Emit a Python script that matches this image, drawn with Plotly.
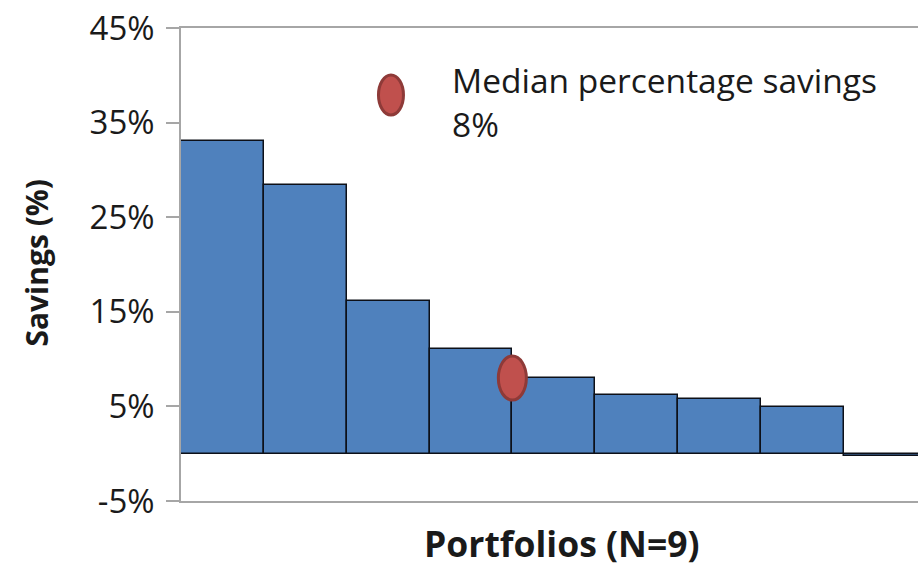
import numpy as np
import plotly.graph_objects as go

# Percentage savings per portfolio, sorted high to low
portfolios = ["P1", "P2", "P3", "P4", "P5", "P6", "P7", "P8", "P9"]
savings = [33.1, 28.4, 16.1, 11.1, 8.0, 6.2, 5.75, 4.9, -0.25]
y_ticks = [-5, 5, 15, 25, 35, 45]
y_tick_labels = ["-5%", "5%", "15%", "25%", "35%", "45%"]

median_savings = float(np.median(savings))
median_pos = 3.5  # between the 4th and 5th portfolio

FONT = "Open Sans"
TEXT = "#1a1a1a"
AXIS = "#a6a6a6"

x_idx = list(range(len(portfolios)))

fig = go.Figure()
fig.add_trace(go.Bar(
    x=x_idx,
    y=savings,
    marker=dict(color="#4f81bd", line=dict(color="#0d1018", width=1.5)),
    width=1.0,
    hovertext=portfolios,
    showlegend=False,
))

# Median marker (ellipse anchored at the median point, pixel sized)
fig.add_shape(
    type="circle", xref="x", yref="y",
    xsizemode="pixel", ysizemode="pixel",
    xanchor=median_pos, yanchor=median_savings,
    x0=-14, x1=14, y0=-22, y1=22,
    fillcolor="#c0504d", line=dict(color="#8e3a38", width=3),
    layer="above",
)

# Legend entry: ellipse symbol + text
fig.add_shape(
    type="circle", xref="paper", yref="paper",
    xsizemode="pixel", ysizemode="pixel",
    xanchor=0.2849, yanchor=0.8584,
    x0=-12.5, x1=12.5, y0=-20, y1=20,
    fillcolor="#c0504d", line=dict(color="#8e3a38", width=3),
)
fig.add_annotation(
    xref="paper", yref="paper", x=0.3650, y=0.8436,
    xanchor="left", yanchor="middle", align="left", showarrow=False,
    text=f"Median percentage savings<br>{median_savings:.0f}%",
    font=dict(family=FONT, size=33.5, color=TEXT),
)

# Axis titles
fig.add_annotation(
    xref="paper", yref="paper", x=-0.1954, y=0.504,
    xanchor="center", yanchor="middle", textangle=-90, showarrow=False,
    text="<b>Savings (%)</b>",
    font=dict(family=FONT, size=30, color=TEXT),
)
fig.add_annotation(
    xref="paper", yref="paper", x=0.5163, y=-0.144,
    xanchor="center", yanchor="bottom", showarrow=False,
    text="<b>Portfolios (N=9)</b>",
    font=dict(family=FONT, size=35.5, color=TEXT),
)

fig.update_layout(
    width=918, height=568,
    margin=dict(l=181, r=0, t=28, b=67),
    paper_bgcolor="white", plot_bgcolor="white",
    bargap=0,
    showlegend=False,
    xaxis=dict(
        range=[-0.5, 8.397],
        showticklabels=False, ticks="", showgrid=False, zeroline=False,
        showline=True, linecolor=AXIS, linewidth=1.5, mirror=True,
    ),
    yaxis=dict(
        range=[-5, 45],
        tickvals=y_ticks, ticktext=y_tick_labels,
        ticks="outside", ticklen=13, tickcolor=AXIS, tickwidth=1.5,
        ticklabelstandoff=5,
        tickfont=dict(family=FONT, size=33, color=TEXT),
        showgrid=False, zeroline=False,
        showline=True, linecolor=AXIS, linewidth=1.5,
    ),
)

fig.write_html("out.html")
